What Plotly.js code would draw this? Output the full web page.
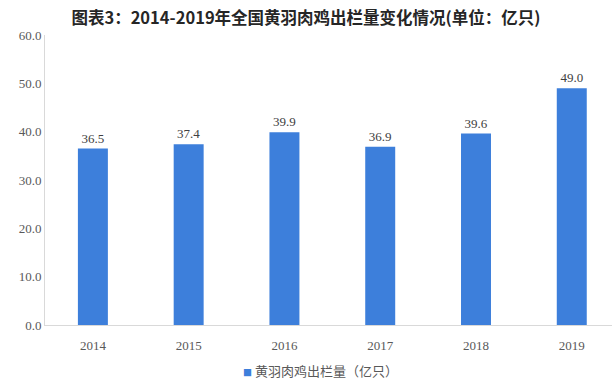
<!DOCTYPE html>
<html><head><meta charset="utf-8">
<script src="https://cdn.plot.ly/plotly-3.0.1.min.js"></script>
<style>html,body{margin:0;padding:0;background:#fff}#chart{width:615px;height:381px}</style>
</head><body><div id="chart"></div>
<script>
const years = ["2014","2015","2016","2017","2018","2019"];
const values = [36.5, 37.4, 39.9, 36.9, 39.6, 49.0];
const seriesName = "黄羽肉鸡出栏量（亿只）";
const titleText = "图表3：2014-2019年全国黄羽肉鸡出栏量变化情况(单位：亿只)";
const barColor = "#3d7fdb";

const serif = "Liberation Serif, Times New Roman, serif";
const cjk = "Noto Sans CJK SC, sans-serif";
Plotly.newPlot("chart", [{
  type: "bar",
  x: years,
  y: values,
  name: seriesName,
  marker: {color: barColor},
  text: values.map(v => v.toFixed(1)),
  textposition: "outside",
  textfont: {family: serif, size: 13, color: "#404040"},
  cliponaxis: false,
  showlegend: false
}], {
  width: 615, height: 381,
  margin: {l: 45, r: 3, t: 35, b: 56},
  paper_bgcolor: "#fff", plot_bgcolor: "#fff",
  title: {text: "<b>" + titleText + "</b>", x: 306 / 615, xanchor: "center", xref: "container",
          y: 1 - 18/381, yanchor: "middle",
          font: {family: cjk, size: 16.5, color: "#262626"}},
  bargap: 0.687,
  xaxis: {type: "category", range: [-0.5, 5.42], showline: true, linecolor: "#d9d9d9", linewidth: 1,
          ticks: "", showgrid: false, ticklabelstandoff: 8,
          tickfont: {family: serif, size: 13, color: "#595959"}},
  yaxis: {range: [0, 60], dtick: 10, tickformat: ".1f", showgrid: false, zeroline: false,
          showline: true, linecolor: "#d9d9d9", linewidth: 1, ticks: "",
          tickfont: {family: serif, size: 13, color: "#595959"}},
  showlegend: false,
  annotations: [{
    xref: "paper", yref: "paper", x: (320 - 45) / 567, y: -(370 - 325) / 290,
    xanchor: "center", yanchor: "middle", showarrow: false,
    text: '<span style="color:' + barColor + ';font-size:9px">■</span> ' + seriesName,
    font: {family: cjk, size: 13, color: "#595959"}
  }]
}, {displayModeBar: false});
</script></body></html>
